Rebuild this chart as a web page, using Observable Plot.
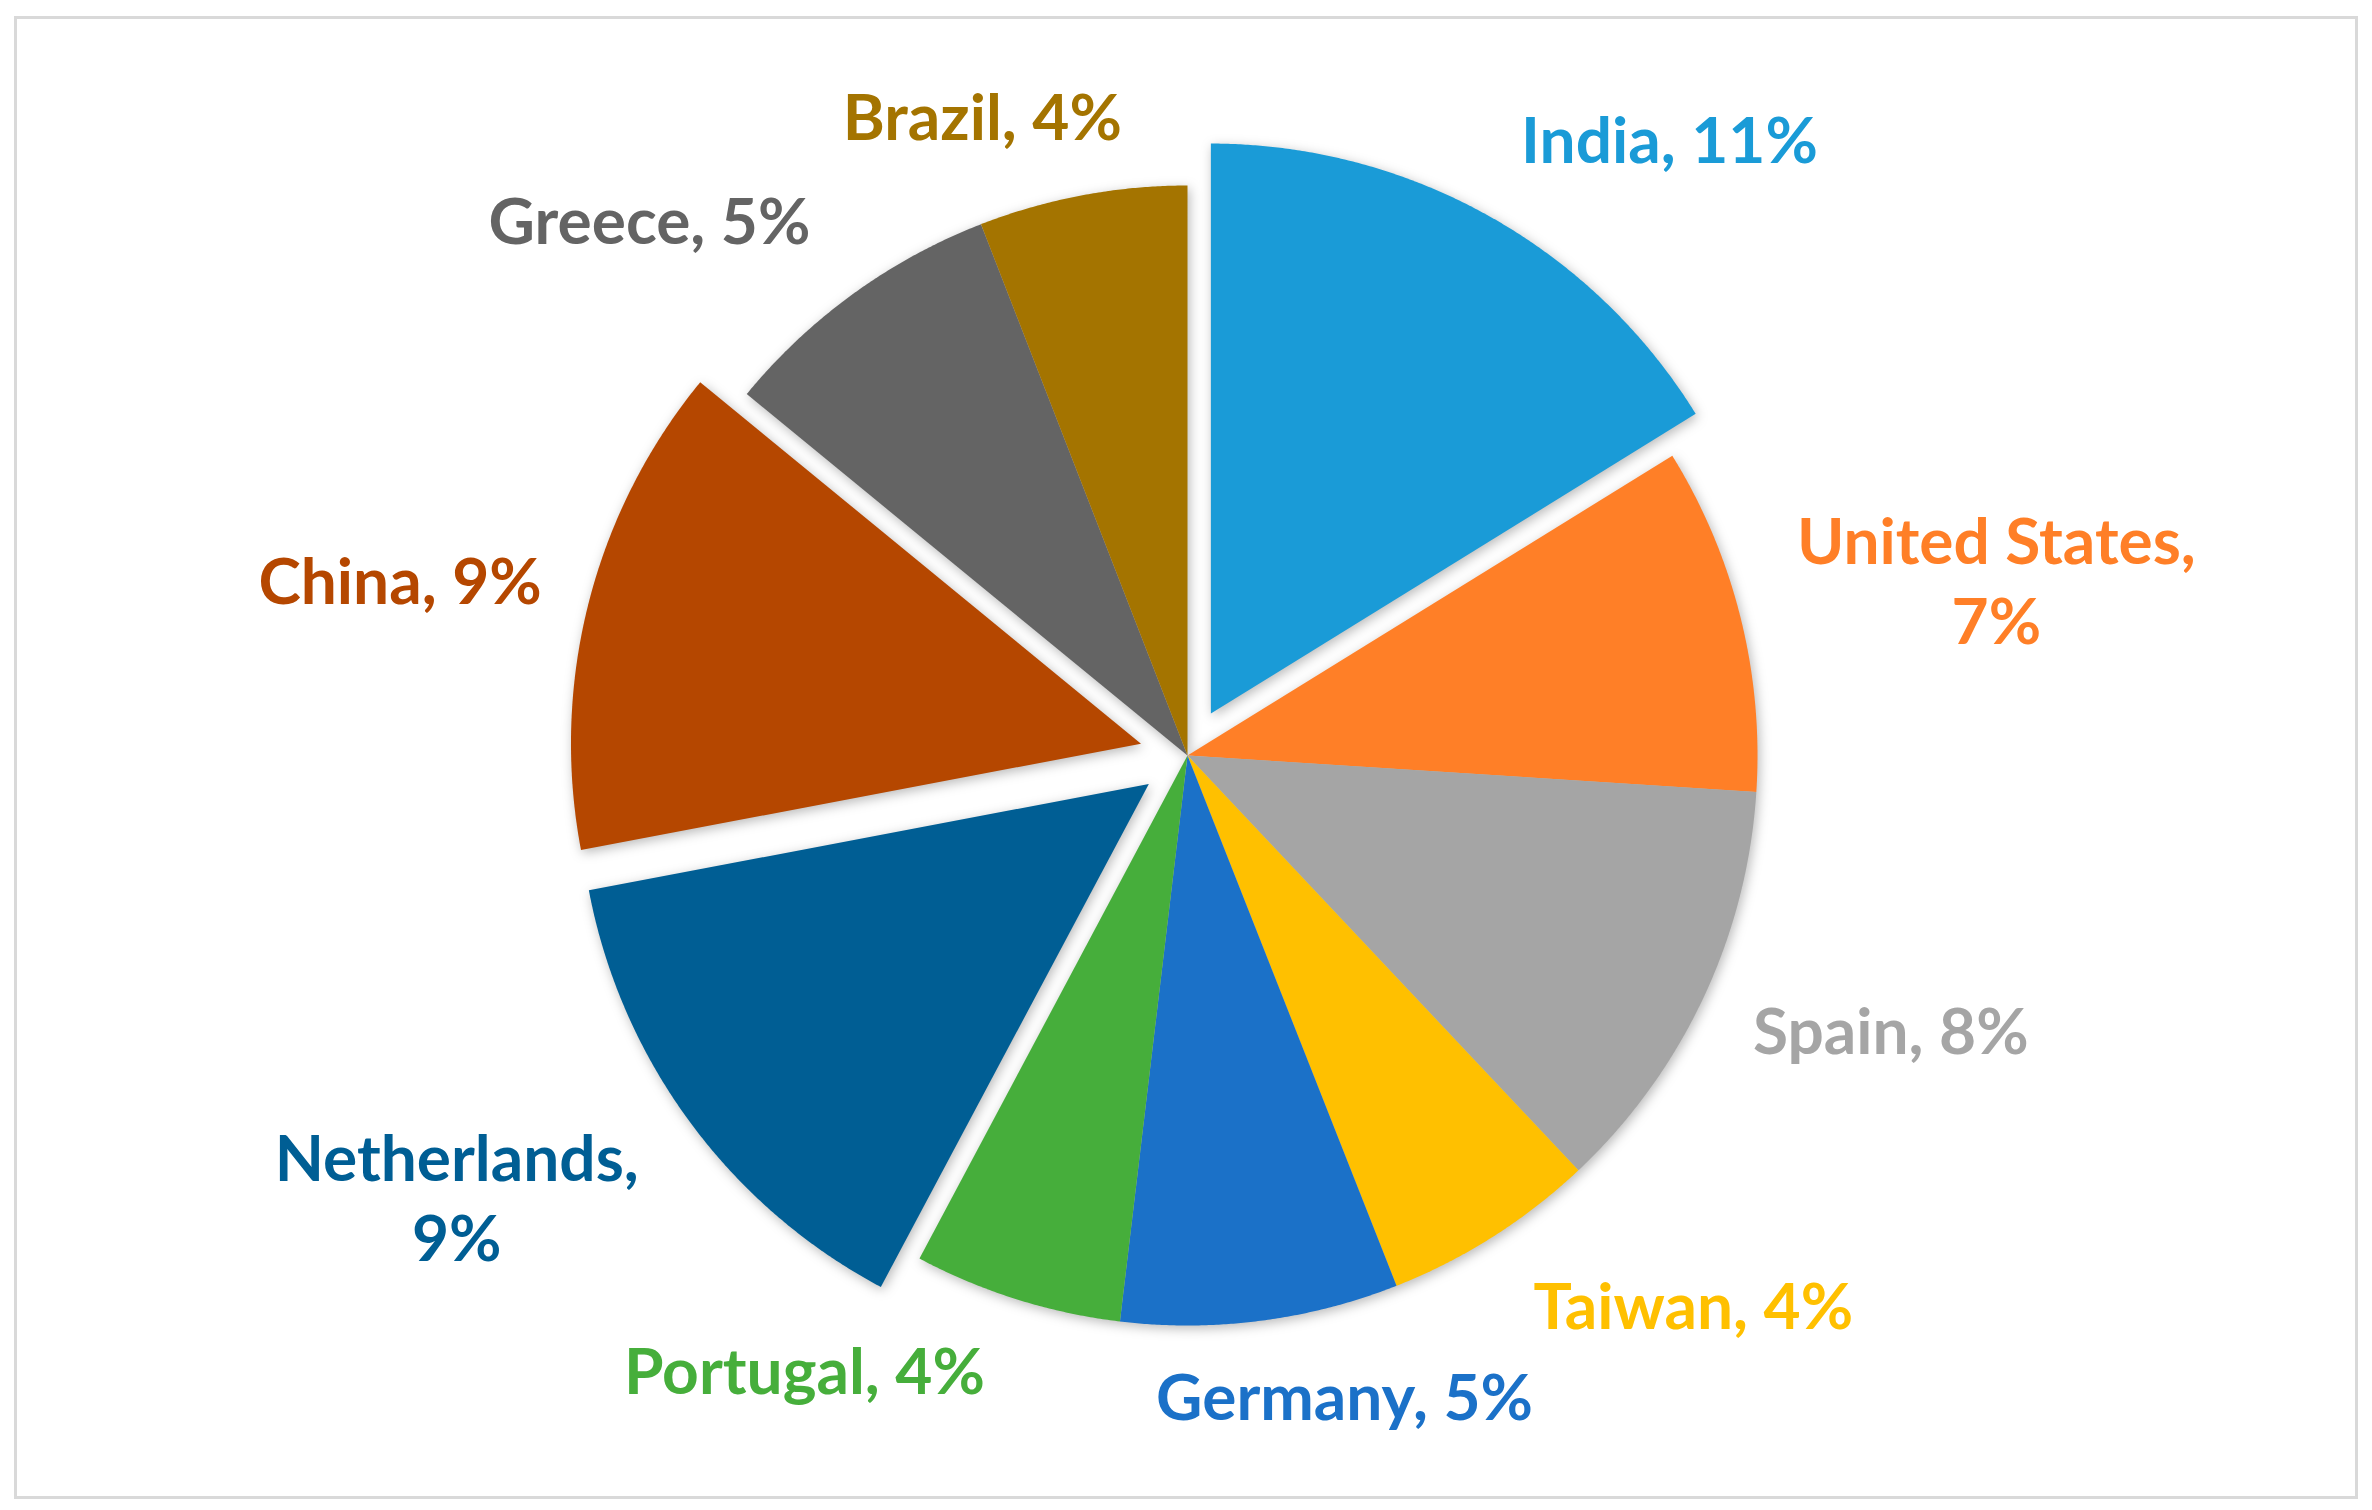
<!DOCTYPE html>
<html>
<head>
<meta charset="utf-8">
<script src="https://cdn.jsdelivr.net/npm/d3@7"></script>
<script src="https://cdn.jsdelivr.net/npm/@observablehq/plot@0.6"></script>
<style>
  html, body { margin: 0; padding: 0; background: #ffffff; }
  #chart svg { display: block; }
</style>
</head>
<body>
<div id="chart"></div>
<script>
// ---------------- DATA ----------------
const countries = ["India", "United States", "Spain", "Taiwan", "Germany", "Portugal", "Netherlands", "China", "Greece", "Brazil"];
const shares = [10.7, 6.5, 7.9, 4.0, 5.2, 3.9, 9.4, 9.2, 5.4, 3.9];
const pctLabels = ["11%", "7%", "8%", "4%", "5%", "4%", "9%", "9%", "5%", "4%"];
const twoLineLabels = ["United States", "Netherlands"];
const explodedSlices = ["India", "Netherlands", "China"];
const sliceColors = ["#1A9BD7", "#FF7F27", "#A5A5A5", "#FFC000", "#1B71C8", "#46AE3B", "#005E94", "#B54700", "#646464", "#A47400"];

// ---------------- LAYOUT ----------------
const W = 2372, H = 1510;
const cx = 1187, cy = 755, R = 570, explodeDist = 48;
// label placement (polar, relative to pie centre): angle in degrees clockwise from top, radius in px
const labelAngle = [38.4, 78.3, 111.9, 137.8, 166.4, 211.6, 238.4, 282.0, 314.4, 342.0];
const labelRadius = [776, 826, 758, 753, 668, 731, 858, 805, 753, 664];

// ---------------- BUILD ----------------
const data = countries.map((c, i) => ({country: c, value: shares[i], pct: pctLabels[i], color: sliceColors[i]}));
const arcs = d3.pie().sort(null).value(d => d.value).startAngle(0).endAngle(2 * Math.PI)(data);

const pts = [];
for (const a of arcs) {
  const c = a.data.country;
  const mid = (a.startAngle + a.endAngle) / 2;
  const off = explodedSlices.includes(c) ? explodeDist : 0;
  const ox = cx + off * Math.sin(mid), oy = cy - off * Math.cos(mid);
  pts.push({country: c, x: ox, y: oy});
  const n = Math.max(8, Math.ceil((a.endAngle - a.startAngle) / (Math.PI / 720)));
  for (let k = 0; k <= n; k++) {
    const t = a.startAngle + (a.endAngle - a.startAngle) * k / n;
    pts.push({country: c, x: ox + R * Math.sin(t), y: oy - R * Math.cos(t)});
  }
  pts.push({country: c, x: ox, y: oy});
}

const labelData = arcs.map((a, i) => {
  const c = a.data.country;
  const ang = labelAngle[i] * Math.PI / 180;
  const sep = twoLineLabels.includes(c) ? ",\n" : ", ";
  return {
    country: c,
    text: c + sep + a.data.pct,
    x: cx + labelRadius[i] * Math.sin(ang),
    y: cy - labelRadius[i] * Math.cos(ang)
  };
});

const chart = Plot.plot({
  width: W,
  height: H,
  margin: 0,
  x: {type: "linear", domain: [0, W], range: [0, W], axis: null},
  y: {type: "linear", domain: [0, H], range: [0, H], axis: null},
  color: {domain: countries, range: sliceColors},
  style: {background: "#ffffff", overflow: "visible"},
  marks: [
    Plot.frame({stroke: "#D9D9D9", strokeWidth: 3, insetLeft: 15, insetTop: 17, insetRight: 16, insetBottom: 13}),
    Plot.line(pts, {x: "x", y: "y", z: "country", fill: "country", stroke: null, curve: "linear"}),
    Plot.text(labelData, {
      x: "x", y: "y", text: "text", fill: "country",
      fontSize: 64, fontWeight: "bold", fontFamily: "Lato",
      textAnchor: "middle", lineAnchor: "middle", lineHeight: 1.25, dy: -10
    })
  ]
});

document.getElementById("chart").appendChild(chart);
chart.querySelectorAll('g[aria-label="line"]').forEach(g => {
  g.style.filter = "drop-shadow(2px 3px 6px rgba(0,0,0,0.28))";
});
</script>
</body>
</html>
